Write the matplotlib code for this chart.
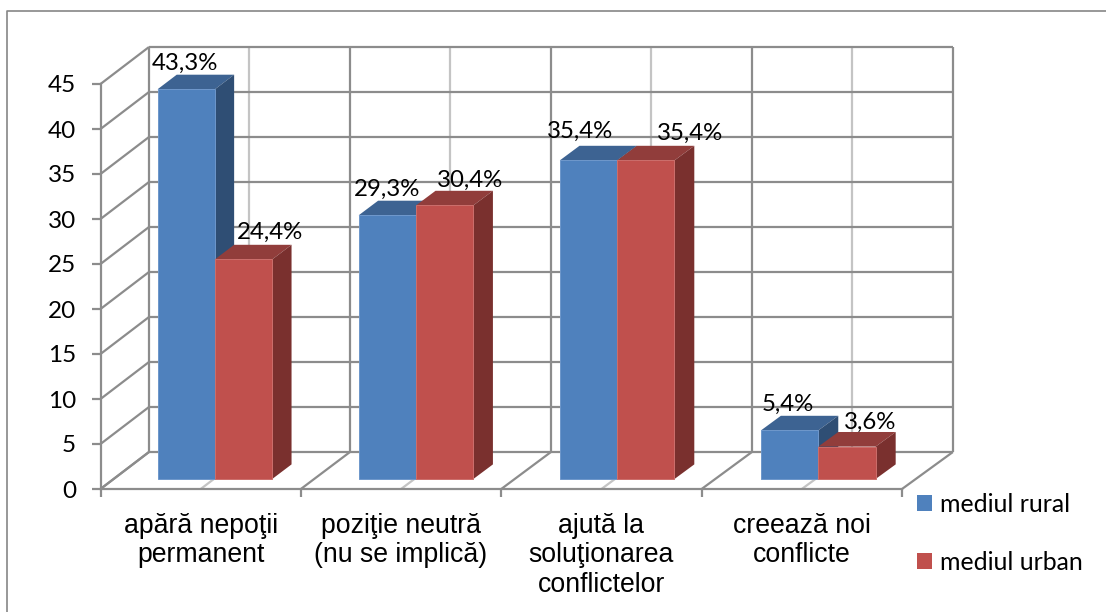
import numpy as np
import matplotlib
matplotlib.use("Agg")
import matplotlib.pyplot as plt
from matplotlib.patches import Polygon, Patch
from matplotlib.lines import Line2D

categories = ["apără nepoţii\npermanent", "poziţie neutră\n(nu se implică)",
              "ajută la\nsoluţionarea\nconflictelor", "creează noi\nconflicte"]
rural = [43.3, 29.3, 35.4, 5.4]
urban = [24.4, 30.4, 35.4, 3.6]
rural_labels = ["43,3%", "29,3%", "35,4%", "5,4%"]
urban_labels = ["24,4%", "30,4%", "35,4%", "3,6%"]
series_names = ["mediul rural", "mediul urban"]
y_ticks = [0, 5, 10, 15, 20, 25, 30, 35, 40, 45]

W, H = 1106, 612
fig = plt.figure(figsize=(W / 100, H / 100), dpi=100, facecolor="white")
L, R, B, T = 100.5, 902, 489, 84
ax = fig.add_axes([L / W, 1 - B / H, (R - L) / W, (B - T) / H])
ax.set_xlim(0, 4)
ax.set_ylim(0, 45)
ax.set_facecolor("none")

DX, DY = 48.5 / 200.4, 37.0 / 9.0     # full depth of the box, in data units
PERSP = 0.003                         # slight widening towards the back
GRID, LIGHT = "#8C8C8C", "#C4C4C4"
LW = 1.6


def proj(x, v, d):
    return x + d * (DX + PERSP * x), v + d * DY


def seg(p, q, color=GRID, lw=LW, z=1):
    ax.add_line(Line2D([p[0], q[0]], [p[1], q[1]], color=color, lw=lw, zorder=z,
                       clip_on=False, solid_capstyle="butt"))


# light mid-category lines: back wall and floor
for i in range(4):
    seg(proj(i + .5, 0, 1), proj(i + .5, 45, 1), LIGHT)
    seg(proj(i + .5, 0, 0), proj(i + .5, 0, 1), LIGHT)
# back wall, left wall
for v in y_ticks:
    seg(proj(0, v, 1), proj(4, v, 1))
    seg(proj(0, v, 0), proj(0, v, 1))
for i in range(5):
    seg(proj(i, 0, 1), proj(i, 45, 1))
    seg(proj(i, 0, 0), proj(i, 0, 1))

# bars
D0, D1 = 0.27, 0.665
BW = 57.3 / 200.4
GAP = (1 - 2 * BW) / 2 + 1 / 200.4
STEP = 1.003
FILLS = [("#4F81BD", "#3D6392", "#2F4E74"), ("#C0504D", "#913D3B", "#7A302E")]
EDGES = ["#6E97CB", "#CC6E6B"]
offs = [[(-1, 26), (0, 26), (-8, 29), (-2, 26)],
        [(26, 27), (25, 25), (44, 27), (23, 24)]]


def bar(x, v, fills, edge, z):
    x1 = x + BW
    f = [proj(x, 0, D0), proj(x1, 0, D0), proj(x1, v, D0), proj(x, v, D0)]
    t = [proj(x, v, D0), proj(x1, v, D0), proj(x1, v, D1), proj(x, v, D1)]
    s = [proj(x1, 0, D0), proj(x1, 0, D1), proj(x1, v, D1), proj(x1, v, D0)]
    ax.add_patch(Polygon(t, fc=fills[1], ec="none", zorder=z, clip_on=False))
    ax.add_patch(Polygon(s, fc=fills[2], ec="none", zorder=z, clip_on=False))
    ax.add_patch(Polygon(f, fc=fills[0], ec=edge, lw=0.7, zorder=z + .1, clip_on=False))


for i in range(4):
    x0 = i * STEP + GAP
    bar(x0, rural[i], FILLS[0], EDGES[0], 3 + i)
    bar(x0 + BW, urban[i], FILLS[1], EDGES[1], 3.3 + i)
    for k, (vals, labs) in enumerate(((rural, rural_labels), (urban, urban_labels))):
        px = x0 + k * BW + BW / 2
        ax.annotate(labs[i], proj(px, vals[i], D0), xytext=offs[k][i],
                    textcoords="offset pixels", ha="center", va="center",
                    family="Lato", fontsize=17.3, color="black", zorder=20,
                    annotation_clip=False)

# axes
for s in ("top", "right"):
    ax.spines[s].set_visible(False)
for s in ("left", "bottom"):
    ax.spines[s].set_color(GRID)
    ax.spines[s].set_linewidth(LW)
    ax.spines[s].set_zorder(2)
ax.set_yticks(y_ticks)
ax.set_yticklabels([str(v) for v in y_ticks], family="Lato", fontsize=17.5, color="black")
ax.set_xticks(range(5))
ax.set_xticklabels([""] * 5)
ax.set_xticks(np.arange(4) + .5, minor=True)
ax.set_xticklabels(categories, minor=True, family="Liberation Sans", fontsize=19.2,
                   color="black", linespacing=1.19)
ax.tick_params(axis="y", length=6.5, width=LW, color=GRID, pad=11)
ax.tick_params(axis="x", which="major", length=6, width=LW, color=GRID)
ax.tick_params(axis="x", which="minor", length=0, pad=17)

# legend
handles = [Patch(fc=FILLS[0][0], ec="none"), Patch(fc=FILLS[1][0], ec="none")]
fig.legend(handles, series_names, loc="upper left", bbox_to_anchor=(917 / W, 1 - 493 / H),
           bbox_transform=fig.transFigure, frameon=False, prop={"family": "Lato", "size": 17.9},
           handlelength=0.6, handleheight=0.6, handletextpad=0.32,
           labelspacing=1.4, borderpad=0, borderaxespad=0)

# outer frame
fig.add_artist(Line2D([7 / W, 7 / W, 1], [0, 1 - 10.5 / H, 1 - 10.5 / H],
                      color="#868686", lw=1.2, transform=fig.transFigure))

fig.savefig("out.png", dpi=100)
